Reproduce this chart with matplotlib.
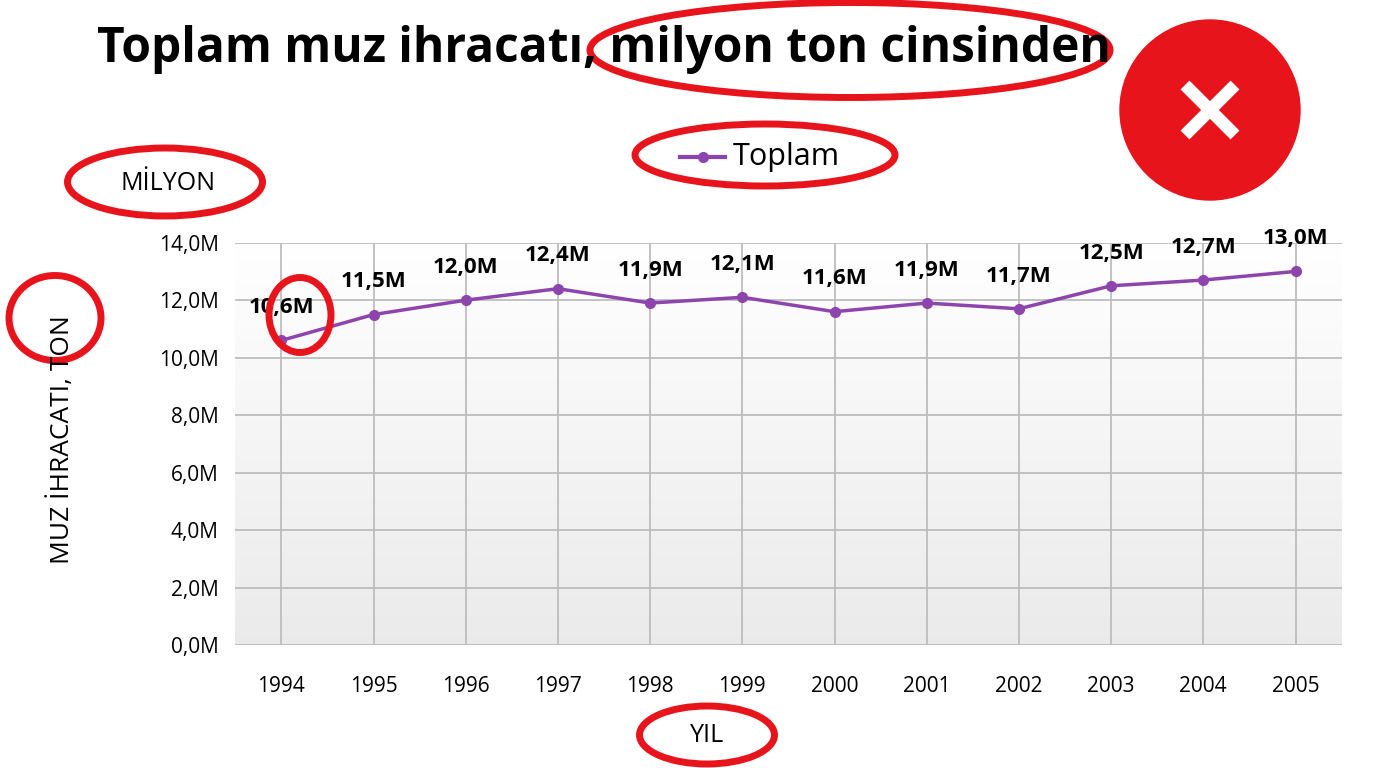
import matplotlib.pyplot as plt
import numpy as np
from matplotlib.patches import Ellipse, Circle

years = [1994, 1995, 1996, 1997, 1998, 1999, 2000, 2001, 2002, 2003, 2004, 2005]
values = [10.6, 11.5, 12.0, 12.4, 11.9, 12.1, 11.6, 11.9, 11.7, 12.5, 12.7, 13.0]
labels = ['10,6M', '11,5M', '12,0M', '12,4M', '11,9M', '12,1M', '11,6M', '11,9M', '11,7M', '12,5M', '12,7M', '13,0M']
yticks = [0, 2, 4, 6, 8, 10, 12, 14]

plt.rcParams['font.family'] = ['Open Sans', 'DejaVu Sans']
purple = '#8e44ad'
red = '#e8141b'

fig = plt.figure(figsize=(13.76, 7.68), dpi=100)
ax = fig.add_axes([0.171, 0.160, 0.804, 0.524])
# white at top fading to light gray at bottom
t = np.linspace(0, 1, 256).reshape(-1, 1)
shade = 1.0 - 0.08 * t
grad = np.dstack([shade, shade, shade])
ax.imshow(grad, extent=[1993.5, 2005.5, 0, 14], aspect='auto', zorder=0)
ax.set_xlim(1993.5, 2005.5)
ax.set_ylim(0, 14)
ax.set_xticks(years)
ax.set_xticklabels([str(y) for y in years], fontsize=15)
ax.set_yticks(yticks)
ax.set_yticklabels([f'{v},0M' for v in yticks], fontsize=15)
ax.grid(color='#bdbdbd', lw=1.3)
ax.set_axisbelow(False)
for s in ax.spines.values():
    s.set_visible(False)
ax.tick_params(length=0, pad=12)
ax.tick_params(axis='x', pad=22)
ax.plot(years, values, color=purple, lw=2.5, marker='o', ms=7, zorder=3)
for x, v, l in zip(years, values, labels):
    ax.annotate(l, (x, v), xytext=(0, 16), textcoords='offset points', ha='center',
                va='bottom', fontsize=16, fontweight='bold')

# overlay in pixel coords
ov = fig.add_axes([0, 0, 1, 1])
ov.set_xlim(0, 1376)
ov.set_ylim(768, 0)
ov.axis('off')
ov.patch.set_alpha(0)
ov.text(97, 50, 'Toplam muz ihracatı, milyon ton cinsinden', fontsize=34.5,
        fontweight='bold', va='center', ha='left')
ov.plot([680, 725], [157, 157], color=purple, lw=3)
ov.plot([703], [157], 'o', color=purple, ms=7)
ov.text(733, 157, 'Toplam', fontsize=22, va='center')
ov.text(168, 183, 'MİLYON', fontsize=18, ha='center', va='center')
ov.text(62, 440, 'MUZ İHRACATI, TON', fontsize=19, rotation=90, ha='center', va='center')
ov.text(707, 735, 'YIL', fontsize=18, ha='center', va='center')
for cx, cy, w, h in [(850, 50, 520, 95), (765, 155, 260, 62), (165, 182, 195, 68),
                     (55, 318, 92, 85), (300, 315, 62, 75), (707, 735, 135, 58)]:
    ov.add_patch(Ellipse((cx, cy), w, h, fill=False, ec=red, lw=5))
ov.add_patch(Circle((1210, 110), 90, color=red))
ov.plot([1185, 1235], [85, 135], color='white', lw=9, solid_capstyle='butt')
ov.plot([1185, 1235], [135, 85], color='white', lw=9, solid_capstyle='butt')

fig.savefig('out.png', dpi=100)
